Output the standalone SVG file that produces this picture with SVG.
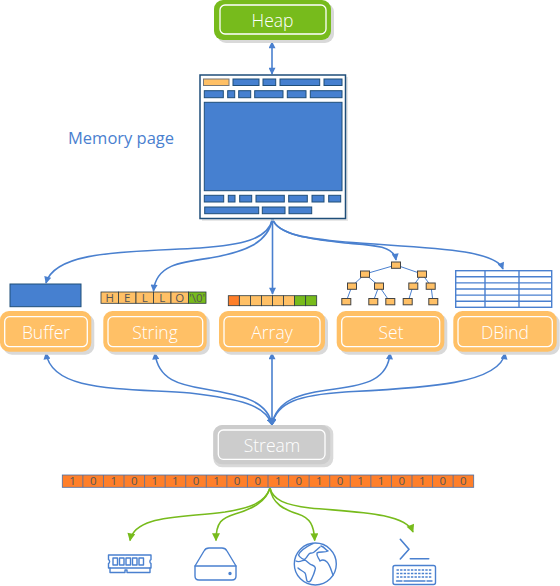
<svg xmlns="http://www.w3.org/2000/svg" width="560" height="586" viewBox="0 0 560 586">
<style>
text{font-family:"Open Sans","Liberation Sans",sans-serif}
.shadow{fill:#d9d9d9}
.outer{stroke:none}
.inner{fill:none;stroke:#fff;stroke-width:1.3}
.label{fill:#fff;font-size:17.500px;font-weight:300;text-anchor:middle}
.b{fill:#4680d0;stroke:#1f4e79;stroke-width:1}
.cell{fill:#ffc066;stroke:#2b3a42;stroke-width:.8}
.g{fill:#77bb1c;stroke:#2b3a42;stroke-width:.8}
.o{fill:#ff7f2a;stroke:#4a6fa5;stroke-width:.8}
.t{fill:#555;font-size:11.500px;text-anchor:middle}
.c{fill:none;stroke:#4a80cf;stroke-width:1.600}
.cg{fill:none;stroke:#77bb1c;stroke-width:1.600}
.tree{fill:#ffc066;stroke:#444;stroke-width:1}
.tl{fill:none;stroke:#4a80cf;stroke-width:1}
.ic{fill:none;stroke:#4a80cf;stroke-width:1.400;stroke-linejoin:round;stroke-linecap:round}
</style>
<defs>
<marker id="ab" viewBox="0 0 10 10" refX="9" refY="5" markerWidth="8.500" markerHeight="7" markerUnits="userSpaceOnUse" orient="auto-start-reverse"><path d="M0 0L10 5L0 10Z" fill="#4a80cf"/></marker>
<marker id="ag" viewBox="0 0 10 10" refX="9" refY="5" markerWidth="9" markerHeight="8" markerUnits="userSpaceOnUse" orient="auto"><path d="M0 0L10 5L0 10Z" fill="#77bb1c"/></marker>
</defs>
<g id="connectors">
<path class="c" d="M272 42V74" marker-start="url(#ab)" marker-end="url(#ab)"/>
<path class="c" d="M272.500 219C268 240 240 245 200 248C130 252 55 250 46 283" marker-end="url(#ab)"/>
<path class="c" d="M272.500 219C268 243 245 252 210 258C180 262 156 265 153.500 291" marker-end="url(#ab)"/>
<path class="c" d="M272.500 219V294" marker-end="url(#ab)"/>
<path class="c" d="M272.500 219C278 235 310 239 345 243C370 245 394 245 396 260" marker-end="url(#ab)"/>
<path class="c" d="M272.500 219C278 235 310 239 345 242C420 248 495 248 503 269" marker-end="url(#ab)"/>
<path class="c" d="M272 425C266 405 240 399 190 393C120 388 52 392 46 353" marker-start="url(#ab)" marker-end="url(#ab)"/>
<path class="c" d="M272 425C268 400 240 395 205 389C180 385 158 380 155 353" marker-start="url(#ab)" marker-end="url(#ab)"/>
<path class="c" d="M272 425V353" marker-start="url(#ab)" marker-end="url(#ab)"/>
<path class="c" d="M272 425C276 400 300 393 335 389C365 385 388 380 390 353" marker-start="url(#ab)" marker-end="url(#ab)"/>
<path class="c" d="M272 425C276 402 300 395 345 392C420 388 500 385 505 353" marker-start="url(#ab)" marker-end="url(#ab)"/>
<path class="cg" d="M270 488C265 503 250 508 225 512C180 518 135 515 130 540.500" marker-end="url(#ag)"/>
<path class="cg" d="M270 488C266 502 252 509 235 514C222 518 216 522 216 540.500" marker-end="url(#ag)"/>
<path class="cg" d="M270 488C272 504 285 510 298 514C310 518 314 525 314.700 540.500" marker-end="url(#ag)"/>
<path class="cg" d="M270 488C273 500 285 505 310 508C350 512 405 512 413 532" marker-end="url(#ag)"/>
</g>
<g id="heap">
<rect class="shadow" x="217" y="3" width="117" height="40" rx="9"/>
<rect class="outer" x="214" y="0" width="117" height="40" rx="9" fill="#77bb1c"/>
<rect class="inner" x="220" y="5" width="106" height="29" rx="5"/>
<text class="label" x="272.500" y="27">Heap</text>
</g>
<text id="memory-page-label" x="68" y="144" font-size="16.500" fill="#4a80cf">Memory page</text>
<g id="memory-page">
<rect x="202" y="77" width="146" height="144" fill="#d9d9d9" opacity=".6"/>
<rect x="200" y="75" width="145.500" height="143.500" fill="#fff" stroke="#1f4e79" stroke-width="1.500"/>
<rect x="203.500" y="79" width="25.500" height="6.500" fill="#ffc066" stroke="#777"/>
<rect class="b" x="233" y="79" width="26" height="6.500"/>
<rect class="b" x="263" y="79" width="12.700" height="6.500"/>
<rect class="b" x="280" y="79" width="39.700" height="6.500"/>
<rect class="b" x="324" y="79" width="18" height="6.500"/>
<rect class="b" x="204.300" y="90.700" width="19" height="7"/>
<rect class="b" x="227.700" y="90.700" width="7" height="7"/>
<rect class="b" x="238.700" y="90.700" width="12" height="7"/>
<rect class="b" x="254.700" y="90.700" width="28.300" height="7"/>
<rect class="b" x="287.300" y="90.700" width="18.700" height="7"/>
<rect class="b" x="310.300" y="90.700" width="31.700" height="7"/>
<rect class="b" x="204.300" y="102.300" width="137.700" height="88.400"/>
<rect class="b" x="204.300" y="195.300" width="19.400" height="6.700" stroke="#5b7ba8"/>
<rect class="b" x="228.300" y="195.300" width="6.700" height="6.700"/>
<rect class="b" x="239.700" y="195.300" width="12" height="6.700"/>
<rect class="b" x="256" y="195.300" width="28.300" height="6.700"/>
<rect class="b" x="288.700" y="195.300" width="18.600" height="6.700"/>
<rect class="b" x="312" y="195.300" width="12" height="6.700"/>
<rect class="b" x="328.700" y="195.300" width="12" height="6.700"/>
<rect class="b" x="204.700" y="207" width="54" height="6.700"/>
<rect class="b" x="262.300" y="207" width="22.700" height="6.700"/>
<rect class="b" x="289" y="207" width="22.700" height="6.700"/>
</g>
<g id="buffer-data"><rect class="b" x="10" y="284" width="71" height="22.700"/></g>
<g id="buffer">
<rect class="shadow" x="3" y="314" width="91.300" height="40.700" rx="9"/>
<rect x="0" y="311" width="91.300" height="40.700" rx="9" fill="#ffc066"/>
<rect class="inner" x="4.700" y="316.700" width="82.600" height="30" rx="5"/>
<text class="label" x="46" y="338.500">Buffer</text>
</g>
<g id="string-data">
<rect class="cell" x="101" y="292" width="17.500" height="11.300"/>
<rect class="cell" x="118.500" y="292" width="17.500" height="11.300"/>
<rect class="cell" x="136" y="292" width="17.500" height="11.300"/>
<rect class="cell" x="153.500" y="292" width="17.500" height="11.300"/>
<rect class="cell" x="171" y="292" width="17.500" height="11.300"/>
<rect class="g" x="188.500" y="292" width="17.500" height="11.300"/>
<text class="t" x="109.700" y="302">H</text>
<text class="t" x="127.200" y="302">E</text>
<text class="t" x="144.700" y="302">L</text>
<text class="t" x="162.200" y="302">L</text>
<text class="t" x="179.700" y="302">O</text>
<text class="t" x="197.200" y="302">'\0'</text>
</g>
<g id="string">
<rect class="shadow" x="106.300" y="314" width="103.400" height="40.700" rx="9"/>
<rect x="103.300" y="311" width="103.400" height="40.700" rx="9" fill="#ffc066"/>
<rect class="inner" x="108" y="316.700" width="94.700" height="30" rx="5"/>
<text class="label" x="155" y="338.500">String</text>
</g>
<g id="array-data">
<rect class="o" style="stroke:#2b3a42" x="228.300" y="295.700" width="11.050" height="10"/>
<rect class="cell" x="239.350" y="295.700" width="11.050" height="10"/>
<rect class="cell" x="250.400" y="295.700" width="11.050" height="10"/>
<rect class="cell" x="261.450" y="295.700" width="11.050" height="10"/>
<rect class="cell" x="272.500" y="295.700" width="11.050" height="10"/>
<rect class="cell" x="283.550" y="295.700" width="11.050" height="10"/>
<rect class="g" x="294.600" y="295.700" width="11.050" height="10"/>
<rect class="g" x="305.650" y="295.700" width="11.050" height="10"/>
</g>
<g id="array">
<rect class="shadow" x="222" y="314" width="106" height="40.700" rx="9"/>
<rect x="219" y="311" width="106" height="40.700" rx="9" fill="#ffc066"/>
<rect class="inner" x="224" y="316.700" width="96" height="30" rx="5"/>
<text class="label" x="272" y="338.500">Array</text>
</g>
<g id="set-data">
<path class="tl" d="M396 265L365 274M396 265L422 274M365 274L352 286M365 274L379 286M422 274L413 286M422 274L431 286M352 286L346 302M379 286L373 302M379 286L390 302M413 286L408 302M431 286L433 302"/>
<rect class="tree" x="391.500" y="262" width="9" height="6.300"/>
<rect class="tree" x="360.500" y="271" width="9" height="6.300"/>
<rect class="tree" x="417.500" y="271" width="9" height="6.300"/>
<rect class="tree" x="347.500" y="283" width="9" height="6.300"/>
<rect class="tree" x="374.500" y="283" width="9" height="6.300"/>
<rect class="tree" x="408.800" y="283" width="9" height="6.300"/>
<rect class="tree" x="426.200" y="283" width="9" height="6.300"/>
<rect class="tree" x="341.800" y="298.500" width="9" height="6.300"/>
<rect class="tree" x="368.800" y="298.500" width="9" height="6.300"/>
<rect class="tree" x="385.800" y="298.500" width="9" height="6.300"/>
<rect class="tree" x="403.200" y="298.500" width="9" height="6.300"/>
<rect class="tree" x="428.800" y="298.500" width="9" height="6.300"/>
</g>
<g id="set">
<rect class="shadow" x="339.700" y="314" width="107.600" height="40.700" rx="9"/>
<rect x="336.700" y="311" width="107.600" height="40.700" rx="9" fill="#ffc066"/>
<rect class="inner" x="341.700" y="316.700" width="98" height="30" rx="5"/>
<text class="label" x="391" y="338.500">Set</text>
</g>
<g id="dbind-data" fill="none" stroke="#4a80cf" stroke-width="1.400">
<rect x="455.700" y="270.700" width="96" height="36.600"/>
<path d="M455.700 276.800H551.700M455.700 282.900H551.700M455.700 289H551.700M455.700 295.100H551.700M455.700 301.200H551.700M485 270.700V307.300M519 270.700V307.300"/>
</g>
<g id="dbind">
<rect class="shadow" x="456.300" y="314" width="103.400" height="40.700" rx="9"/>
<rect x="453.300" y="311" width="103.400" height="40.700" rx="9" fill="#ffc066"/>
<rect class="inner" x="458" y="316.700" width="94.300" height="30" rx="5"/>
<text class="label" x="505" y="338.500">DBind</text>
</g>
<g id="stream">
<rect x="213.300" y="425" width="120" height="42.300" rx="9" fill="#d9d9d9"/>
<rect x="213.300" y="425" width="117" height="39.300" rx="9" fill="#ccc"/>
<rect class="inner" x="218.300" y="430" width="106.700" height="29.300" rx="5"/>
<text class="label" x="272" y="452">Stream</text>
</g>
<g id="bits">
<rect class="o" x="62.300" y="475" width="411.400" height="12.300"/>
<path d="M82.870 475V487.300M103.440 475V487.300M124.010 475V487.300M144.580 475V487.300M165.150 475V487.300M185.720 475V487.300M206.290 475V487.300M226.860 475V487.300M247.430 475V487.300M268 475V487.300M288.570 475V487.300M309.140 475V487.300M329.710 475V487.300M350.280 475V487.300M370.850 475V487.300M391.420 475V487.300M411.990 475V487.300M432.560 475V487.300M453.130 475V487.300" stroke="#4a6fa5" stroke-width=".8"/>
<g class="t">
<text x="72.600" y="485">1</text><text x="93.200" y="485">0</text><text x="113.700" y="485">1</text><text x="134.300" y="485">0</text><text x="154.900" y="485">1</text><text x="175.400" y="485">1</text><text x="196" y="485">0</text><text x="216.600" y="485">1</text><text x="237.100" y="485">0</text><text x="257.700" y="485">0</text><text x="278.300" y="485">1</text><text x="298.900" y="485">0</text><text x="319.400" y="485">1</text><text x="340" y="485">0</text><text x="360.600" y="485">1</text><text x="381.100" y="485">1</text><text x="401.700" y="485">0</text><text x="422.300" y="485">1</text><text x="442.800" y="485">0</text><text x="463.400" y="485">0</text>
</g>
</g>
<g id="ram" class="ic">
<path d="M108.500 555H151V559.500C149.500 560 149.500 563 151 563.500V568H108.500V563.500C110 563 110 560 108.500 559.500Z"/>
<path d="M110 568V572.500H125V570H127V572.500H150V568"/>
<rect x="113" y="558" width="4.500" height="7"/><rect x="119.500" y="558" width="4.500" height="7"/><rect x="126" y="558" width="4.500" height="7"/><rect x="132.500" y="558" width="4.500" height="7"/><rect x="139" y="558" width="4.500" height="7"/>
</g>
<g id="disk" class="ic">
<path d="M195 566L204 551Q205.500 548 209 548H222Q225.500 548 227 551L236 566V576Q236 580 232 580H199Q195 580 195 576Z"/>
<path d="M195 566H236"/>
<circle cx="230" cy="573.500" r="1" fill="#4a80cf"/>
</g>
<g id="globe" class="ic">
<circle cx="315.300" cy="564" r="21"/>
<path d="M313 543.500C308 546 301 549 298.500 555C300 558 304 560 305 559C308 557 308 553 311 553C314 554 316 550 320 547"/>
<path d="M296 561C299 563 303 560 305 560C308 562 310 565 312 565C315 566 316 568 315 570C314 574 313 576 312 578C311 581 309 583 307 581C306 578 306 574 305 573C303 571 300 570 298 568"/>
<path d="M321 546C325 547 325 550 328 551C325 553 319 551 317 553C316 556 319 558 320 561C323 559 325 560 327 562C330 565 331 570 333 575"/>
</g>
<g id="terminal" class="ic">
<path d="M400.300 539.300L409 549.300L400.300 559" stroke-width="1.600"/>
<path d="M410.300 558.700H428.700" stroke-width="1.600"/>
<rect x="393" y="565.500" width="42.500" height="19" rx="2"/>
<path d="M396.500 570H432M396.500 573.500H432M396.500 577H432" stroke-dasharray="2.400 1.200" stroke-linecap="butt"/>
<path d="M396.500 581H402M404 581H425M427 581H432"/>
</g>
</svg>
